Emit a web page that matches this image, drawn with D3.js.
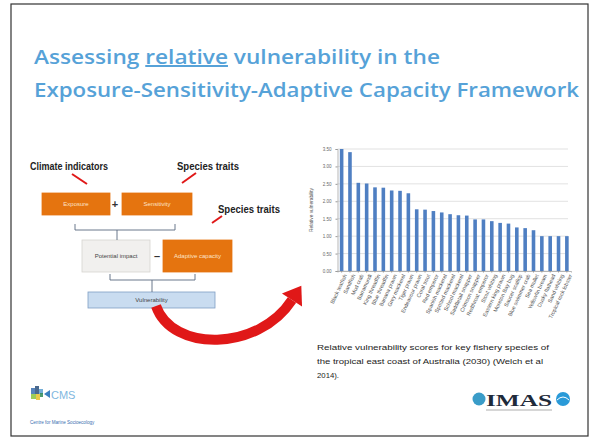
<!DOCTYPE html>
<html><head><meta charset="utf-8">
<script src="https://cdn.jsdelivr.net/npm/d3@7"></script>
<style>html,body{margin:0;padding:0;background:#fff;}svg{display:block;}</style>
</head><body>
<script>
const species = ["Black teatfish","Sandfish","Mud crab","Barramundi","King threadfin","Blue threadfin","Banana prawn","Grey mackerel","Tiger prawn","Endeavour prawn","Coral trout","Red emperor","Spanish mackerel","Spotted mackerel","School mackerel","Saddletail snapper","Crimson snapper","Redthroat emperor","Stout whiting","Eastern king prawn","Moreton Bay bug","Saucer scallop","Blue swimmer crab","Sea mullet","Yellowfin bream","Dusky flathead","Sand whiting","Tropical rock lobster"];
const scores = [3.50,3.41,2.53,2.51,2.40,2.39,2.31,2.30,2.23,1.77,1.76,1.72,1.68,1.63,1.60,1.59,1.48,1.48,1.43,1.38,1.36,1.25,1.23,1.17,1.00,1.00,1.00,1.00];
const yTicks = [0,0.5,1,1.5,2,2.5,3,3.5];
const yTitle = "Relative vulnerability";
const titleLines = ["Assessing ", "relative", " vulnerability in the", "Exposure-Sensitivity-Adaptive Capacity Framework"];
const captionLines = ["Relative vulnerability scores for key fishery species of","the tropical east coast of Australia (2030) (Welch et al","2014)."];

(function(){
const W = 591, H = 438;
const svg = d3.select("body").append("svg").attr("width", W).attr("height", H);
svg.append("rect").attr("width", W).attr("height", H).attr("fill", "#fff");
svg.append("rect").attr("x", 11).attr("y", 4).attr("width", 577).attr("height", 432)
  .attr("fill", "none").attr("stroke", "#333").attr("stroke-width", 1.2);

const tc = "#56a2d8";
const t1 = svg.append("text").attr("x", 34).attr("y", 64).attr("fill", tc)
  .attr("font-family", "Open Sans").attr("font-weight", 600).attr("font-size", 20)
  .attr("textLength", 406).attr("lengthAdjust", "spacingAndGlyphs");
t1.append("tspan").text(titleLines[0]);
t1.append("tspan").attr("text-decoration", "underline").text(titleLines[1]);
t1.append("tspan").text(titleLines[2]);
svg.append("text").attr("x", 34).attr("y", 97).attr("fill", tc)
  .attr("font-family", "Open Sans").attr("font-weight", 600).attr("font-size", 20)
  .attr("textLength", 545).attr("lengthAdjust", "spacingAndGlyphs")
  .text(titleLines[3]);

const orange = "#e5740f";
const dg = svg.append("g").attr("font-family", "Liberation Sans");
function label(x, y, txt, len) {
  dg.append("text").attr("x", x).attr("y", y).attr("fill", "#222").attr("font-size", 10.5)
    .attr("font-family", "Liberation Sans Narrow, Liberation Sans").attr("font-weight", "bold")
    .attr("textLength", len).attr("lengthAdjust", "spacingAndGlyphs").text(txt);
}
label(30, 170, "Climate indicators", 78);
label(177, 170, "Species traits", 62);
label(218, 213, "Species traits", 62);
const red = "#e01818";
[[72,174,87,184],[196,173,182,183],[222,216,212,223]].forEach(d => {
  dg.append("line").attr("x1", d[0]).attr("y1", d[1]).attr("x2", d[2]).attr("y2", d[3])
    .attr("stroke", red).attr("stroke-width", 2);
});
function box(x, y, w, h, fill, stroke, txt, tcol) {
  dg.append("rect").attr("x", x).attr("y", y).attr("width", w).attr("height", h)
    .attr("fill", fill).attr("stroke", stroke).attr("stroke-width", 0.8);
  dg.append("text").attr("x", x + w / 2).attr("y", y + h / 2 + 2).attr("text-anchor", "middle")
    .attr("font-size", 6).attr("fill", tcol).text(txt);
}
box(42, 193, 68, 22, orange, orange, "Exposure", "#fde3c8");
box(122, 193, 70, 22, orange, orange, "Sensitivity", "#fde3c8");
box(82, 240, 68, 32, "#f1f0ee", "#d6d4d0", "Potential impact", "#444");
box(163, 240, 69, 32, orange, orange, "Adaptive capacity", "#fde3c8");
box(88, 292, 127, 16, "#c9dcf0", "#7f9ec4", "Vulnerability", "#444");
dg.append("text").attr("x", 115).attr("y", 208).attr("text-anchor", "middle").attr("font-size", 11)
  .attr("font-weight", "bold").attr("fill", "#333").text("+");
dg.append("text").attr("x", 157).attr("y", 260).attr("text-anchor", "middle").attr("font-size", 11)
  .attr("font-weight", "bold").attr("fill", "#333").text("–");
const bc = "#5a6a80";
dg.append("path").attr("d", "M75,224V230H175V224M117,230V240").attr("fill", "none").attr("stroke", bc).attr("stroke-width", 0.9);
dg.append("path").attr("d", "M110,274V280H195V274M152,280V292").attr("fill", "none").attr("stroke", bc).attr("stroke-width", 0.9);

const p0 = [156, 306], c1 = [172, 352], c2 = [258, 352], p3 = [292, 300];
svg.append("path").attr("d", `M${p0}C${c1} ${c2} ${p3}`).attr("fill", "none")
  .attr("stroke", red).attr("stroke-width", 10).attr("stroke-linecap", "butt");
{
  const dx = p3[0] - c2[0], dy = p3[1] - c2[1], L = Math.hypot(dx, dy);
  const ux = dx / L, uy = dy / L, nx = -uy, ny = ux;
  const tip = [p3[0] + ux * 17, p3[1] + uy * 17];
  const b1 = [p3[0] + nx * 12, p3[1] + ny * 12], b2 = [p3[0] - nx * 12, p3[1] - ny * 12];
  svg.append("path").attr("d", `M${tip}L${b1}L${b2}Z`).attr("fill", red);
}

const pLeft = 337.5, pRight = 571, pTop = 149, pBottom = 271;
const x = d3.scaleBand().domain(species).range([pLeft, pRight]).paddingInner(0.57).paddingOuter(0.28);
const y = d3.scaleLinear().domain([0, 3.5]).range([pBottom, pTop]);
const cg = svg.append("g").attr("font-family", "Liberation Sans");
cg.append("g").selectAll("line").data(yTicks).join("line")
  .attr("x1", pLeft).attr("x2", pRight - 3).attr("y1", d => y(d)).attr("y2", d => y(d))
  .attr("stroke", "#d4d4d4").attr("stroke-width", 0.7);
const yAxis = cg.append("g").attr("transform", `translate(${pLeft},0)`)
  .call(d3.axisLeft(y).tickValues(yTicks).tickFormat(d3.format(".2f")).tickSize(2).tickPadding(4));
yAxis.select(".domain").attr("stroke", "#999").attr("stroke-width", 0.7);
yAxis.selectAll(".tick line").attr("stroke", "#999");
yAxis.selectAll("text").attr("font-size", 4.5).attr("fill", "#666").attr("font-family", "Liberation Sans");
cg.append("text").attr("transform", `translate(313,${(pTop + pBottom) / 2}) rotate(-90)`)
  .attr("text-anchor", "middle").attr("font-size", 4.8).attr("fill", "#555").text(yTitle);
cg.append("g").selectAll("rect").data(scores).join("rect")
  .attr("x", (d, i) => x(species[i])).attr("width", x.bandwidth())
  .attr("y", d => y(d)).attr("height", d => y(0) - y(d))
  .attr("fill", "#4f7fc2");
const xAxis = cg.append("g").attr("transform", `translate(0,${pBottom})`)
  .call(d3.axisBottom(x).tickSize(1.5).tickPadding(2));
xAxis.select(".domain").attr("stroke", "#999").attr("stroke-width", 0.7);
xAxis.selectAll(".tick line").attr("stroke", "#999");
xAxis.selectAll("text").attr("font-size", 5.4).attr("fill", "#555").attr("font-family", "Liberation Sans")
  .attr("text-anchor", "end").attr("dx", "-0.3em").attr("dy", "0.6em")
  .attr("transform", "rotate(-65)");

svg.append("g").selectAll("text").data(captionLines).join("text")
  .attr("x", 317).attr("y", (d, i) => 350 + i * 14).attr("font-size", 8)
  .attr("font-family", "Liberation Sans").attr("fill", "#222")
  .attr("textLength", (d, i) => i === 0 ? 232 : (i === 1 ? 226 : 22)).attr("lengthAdjust", "spacingAndGlyphs")
  .text(d => d);

const grad = svg.append("defs").append("linearGradient").attr("id", "fl");
grad.append("stop").attr("offset", "0%").attr("stop-color", "#8aa0b8");
grad.append("stop").attr("offset", "60%").attr("stop-color", "#888");
grad.append("stop").attr("offset", "100%").attr("stop-color", "#ccc");
svg.append("line").attr("x1", 28).attr("x2", 565).attr("y1", 412).attr("y2", 412)
  .attr("stroke", "url(#fl)").attr("stroke-width", 1.2);
const cmsCols = ["#3a6fb0","#2a4f7a","#5aa0d0","#8cc43c","#e8c02a","#2e8b57"];
[[31,388,4,6],[35,386,4,8],[39,389,4,5],[31,394,5,5],[36,394,4,6],[40,393,3,4]].forEach((r, i) => {
  svg.append("rect").attr("x", r[0]).attr("y", r[1]).attr("width", r[2]).attr("height", r[3]).attr("fill", cmsCols[i]).attr("opacity", 0.85);
});
svg.append("path").attr("d", "M44,394 L50,390 L50,398 Z").attr("fill", "#3a7fc0");
svg.append("text").attr("x", 51).attr("y", 399).attr("font-size", 11).attr("fill", "#7fb7e0")
  .attr("font-family", "Liberation Sans").text("CMS");
svg.append("text").attr("x", 30).attr("y", 424).attr("font-size", 4.6).attr("fill", "#3a6fb0")
  .attr("font-family", "Liberation Sans").text("Centre for Marine Socioecology");
svg.append("circle").attr("cx", 479).attr("cy", 399).attr("r", 6.5).attr("fill", "#3a9cc8");
svg.append("text").attr("x", 486).attr("y", 406).attr("font-size", 17).attr("font-weight", "bold")
  .attr("font-family", "Liberation Serif").attr("fill", "#1e2a3a")
  .attr("textLength", 66).attr("lengthAdjust", "spacingAndGlyphs").text("IMAS");
svg.append("circle").attr("cx", 563).attr("cy", 399).attr("r", 7).attr("fill", "#2a9ad8");
svg.append("path").attr("d", "M557,400 Q563,394 569,400").attr("fill", "none").attr("stroke", "#fff").attr("stroke-width", 1);
svg.append("line").attr("x1", 486).attr("x2", 552).attr("y1", 410).attr("y2", 410).attr("stroke", "#777").attr("stroke-width", 0.6);
})();
</script>
</body></html>
